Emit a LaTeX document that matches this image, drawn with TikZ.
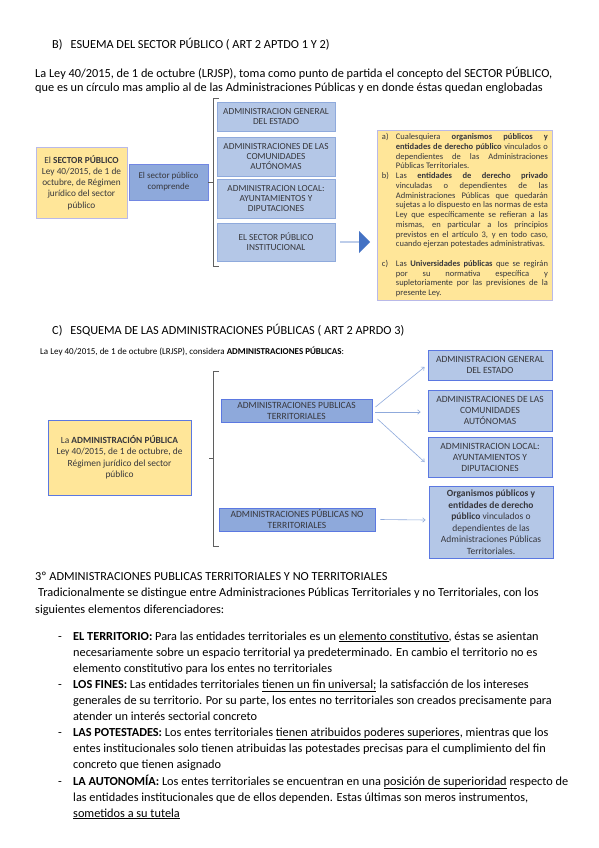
\documentclass[tikz,border=0pt]{standalone}
\usepackage{fontspec}
\setmainfont{Carlito}
\usetikzlibrary{arrows.meta,positioning,shapes.arrows}
\definecolor{paleyellow}{RGB}{255,230,153}
\definecolor{lightblue}{RGB}{180,199,231}
\definecolor{midblue}{RGB}{142,169,219}
\definecolor{edgeblue}{RGB}{143,170,220}
\definecolor{deepblue}{RGB}{68,114,196}
\definecolor{lineblue}{RGB}{91,120,225}
\definecolor{lavender}{RGB}{185,185,232}
\definecolor{ink}{RGB}{55,55,60}
\definecolor{bracketgray}{RGB}{95,95,95}

% item of the list in the yellow box
\newcommand{\lit}[2]{\noindent\hangindent=14pt\hangafter=1\makebox[14pt][l]{#1}#2\par}

\tikzset{
  lbox/.style={fill=lightblue,draw=edgeblue,line width=0.9pt,text=ink,align=center,
    inner sep=1pt,font=\fontsize{9.3}{10}\selectfont},
  rbox/.style={lbox,draw=lineblue,font=\fontsize{9.5}{11}\selectfont},
  ybox/.style={fill=paleyellow,draw=lavender,line width=0.9pt,text=ink,inner sep=1pt},
  linea/.style={draw=bracketgray,line width=0.8pt},
  link/.style={draw=edgeblue,line width=0.6pt,-{Straight Barb[length=2.5pt,width=4.5pt]}},
  txt/.style={anchor=base west,inner sep=0pt,font=\fontsize{12.3}{16}\selectfont}
}

\begin{document}
\begin{tikzpicture}[x=1pt,y=-1pt]
  \fill[white] (0,0) rectangle (599,848);
  \useasboundingbox (0,0) rectangle (599,848);

  % B) sector publico
  \node[txt] (titleb) at (52,49) {B)\hspace{8pt}ESUEMA DEL SECTOR PÚBLICO ( ART 2 APTDO 1 Y 2)};
  \node[txt] (introa) at (35,78) {La Ley 40/2015, de 1 de octubre (LRJSP), toma como punto de partida el concepto del SECTOR PÚBLICO,};
  \node[txt] (introb) at (35,92) {que es un círculo mas amplio al de las Administraciones Públicas y en donde éstas quedan englobadas};

  \node[ybox,minimum width=91pt,minimum height=71pt,align=center,font=\fontsize{9.3}{11.3}\selectfont] (sector) at (81.5,182.5)
    {El \textbf{SECTOR PÚBLICO}\\Ley 40/2015, de 1 de\\octubre, de Régimen\\jurídico del sector\\público};
  \node[lbox,fill=midblue,draw=midblue!80!blue,minimum width=79pt,minimum height=36pt,font=\fontsize{9}{11}\selectfont] (comprende) at (168.5,182)
    {El sector público\\comprende};

  \draw[linea] (219,98) -| (213,266) -- (219,266);
  \draw[linea] (comprende.east) -- ++(5,0);

  \foreach \n/\y/\h/\t in {
    age/116.5/29/{ADMINISTRACION GENERAL\\DEL ESTADO},
    ccaa/156.5/39/{ADMINISTRACIONES DE LAS\\COMUNIDADES\\AUTÓNOMAS},
    local/198.5/39/{ADMINISTRACION LOCAL:\\AYUNTAMIENTOS Y\\DIPUTACIONES},
    inst/242/38/{EL SECTOR PÚBLICO\\INSTITUCIONAL}}
  {
    \node[lbox,minimum width=118pt,minimum height={\h pt}] (\n) at (276,\y) {\t};
  }

  \node[single arrow,fill=deepblue,minimum height=30pt,minimum width=22pt,
    single arrow head extend=6pt,inner sep=0pt] (flecha) at (355,242) {};

  \node[ybox,anchor=north west,text width=166pt,inner xsep=4.5pt,inner ysep=3pt,align=justify,
    font=\fontsize{8.5}{9.75}\selectfont] (entes) at (377,130) {%
    \lit{a)}{Cualesquiera \textbf{organismos públicos y}\linebreak \textbf{entidades de derecho público} vinculados o\linebreak dependientes de las Administraciones\linebreak Públicas Territoriales.}
    \lit{b)}{Las \textbf{entidades de derecho privado}\linebreak vinculadas o dependientes de las\linebreak Administraciones Públicas que quedarán\linebreak sujetas a lo dispuesto en las normas de esta\linebreak Ley que específicamente se refieran a las\linebreak mismas, en particular a los principios\linebreak previstos en el artículo 3, y en todo caso,\linebreak cuando ejerzan potestades administrativas.}
    \vspace{9.75pt}
    \lit{c)}{Las \textbf{Universidades públicas} que se regirán\linebreak por su normativa específica y\linebreak supletoriamente por las previsiones de la\linebreak presente Ley.}};

  % C) administraciones publicas
  \node[txt] (titlec) at (52,334) {C)\hspace{8pt}ESQUEMA DE LAS ADMINISTRACIONES PÚBLICAS ( ART 2 APRDO 3)};
  \node[txt,font=\fontsize{9}{11}\selectfont] (considera) at (40,354)
    {La Ley 40/2015, de 1 de octubre (LRJSP), considera \textbf{ADMINISTRACIONES PÚBLICAS}:};

  \node[ybox,draw=lineblue,minimum width=143pt,minimum height=75pt,align=center,font=\fontsize{9.4}{11.5}\selectfont] (admin) at (119.5,457.5)
    {La \textbf{ADMINISTRACIÓN PÚBLICA}\\Ley 40/2015, de 1 de octubre, de\\Régimen jurídico del sector\\público};

  \draw[linea] (219,371) -| (213,546) -- (219,546);
  \draw[linea] (213,458) -- ++(-4,0);

  \node[rbox,fill=midblue,minimum width=151pt,minimum height=23pt] (terr) at (296.5,410.5)
    {ADMINISTRACIONES PUBLICAS\\TERRITORIALES};
  \node[rbox,fill=midblue,minimum width=156pt,minimum height=23pt] (noterr) at (297,519.5)
    {ADMINISTRACIONES PÚBLICAS NO\\TERRITORIALES};

  \foreach \n/\y/\h/\t in {
    rage/365/30/{ADMINISTRACION GENERAL\\DEL ESTADO},
    rccaa/410.5/41/{ADMINISTRACIONES DE LAS\\COMUNIDADES\\AUTÓNOMAS},
    rlocal/457/40/{ADMINISTRACION LOCAL:\\AYUNTAMIENTOS Y\\DIPUTACIONES}}
  {
    \node[rbox,minimum width=124pt,minimum height={\h pt}] (\n) at (490,\y) {\t};
  }
  \node[rbox,minimum width=124pt,minimum height=72pt,font=\fontsize{9.5}{11.5}\selectfont] (organismos) at (491,522)
    {\textbf{Organismos públicos y}\\\textbf{entidades de derecho}\\\textbf{público} vinculados o\\dependientes de las\\Administraciones Públicas\\Territoriales.};

  \draw[link] ([xshift=3pt,yshift=3.5pt]terr.east) -- ([xshift=-3pt,yshift=-2pt]rage.west);
  \draw[link] ([xshift=3pt,yshift=-1.5pt]terr.east) -- ([xshift=-7pt,yshift=-1.5pt]rccaa.west);
  \draw[link] ([xshift=5pt,yshift=-8.5pt]terr.east) -- ([xshift=-3pt,yshift=-5pt]rlocal.west);
  \draw[link] ([xshift=5pt]noterr.east) -- ([xshift=-3pt,yshift=2pt]organismos.west);

  % 3o territoriales y no territoriales
  \node[txt] (titled) at (35,580) {3º ADMINISTRACIONES PUBLICAS TERRITORIALES Y NO TERRITORIALES};
  \node[txt] (tradic) at (38,596) {Tradicionalmente se distingue entre Administraciones Públicas Territoriales y no Territoriales, con los};
  \node[txt] (siguen) at (35,613) {siguientes elementos diferenciadores:};

  \foreach \y in {640,688,736,785}
    \node[txt] at (58,\y) {-};
  \foreach \y/\t in {
    640/{\textbf{EL TERRITORIO:} Para las entidades territoriales es un \underline{elemento constitutivo}, éstas se asientan},
    656/{necesariamente sobre un espacio territorial ya predeterminado. En cambio el territorio no es},
    672/{elemento constitutivo para los entes no territoriales},
    688/{\textbf{LOS FINES:} Las entidades territoriales \underline{tienen un fin universal;} la satisfacción de los intereses},
    704/{generales de su territorio. Por su parte, los entes no territoriales son creados precisamente para},
    720/{atender un interés sectorial concreto},
    736/{\textbf{LAS POTESTADES:} Los entes territoriales \underline{tienen atribuidos poderes superiores}, mientras que los},
    752/{entes institucionales solo tienen atribuidas las potestades precisas para el cumplimiento del fin},
    768/{concreto que tienen asignado},
    785/{\textbf{LA AUTONOMÍA:} Los entes territoriales se encuentran en una \underline{posición de superioridad} respecto de},
    801/{las entidades institucionales que de ellos dependen. Estas últimas son meros instrumentos,},
    817/{\underline{sometidos a su tutela}}}
  {
    \node[txt] at (73,\y) {\t};
  }
\end{tikzpicture}
\end{document}
